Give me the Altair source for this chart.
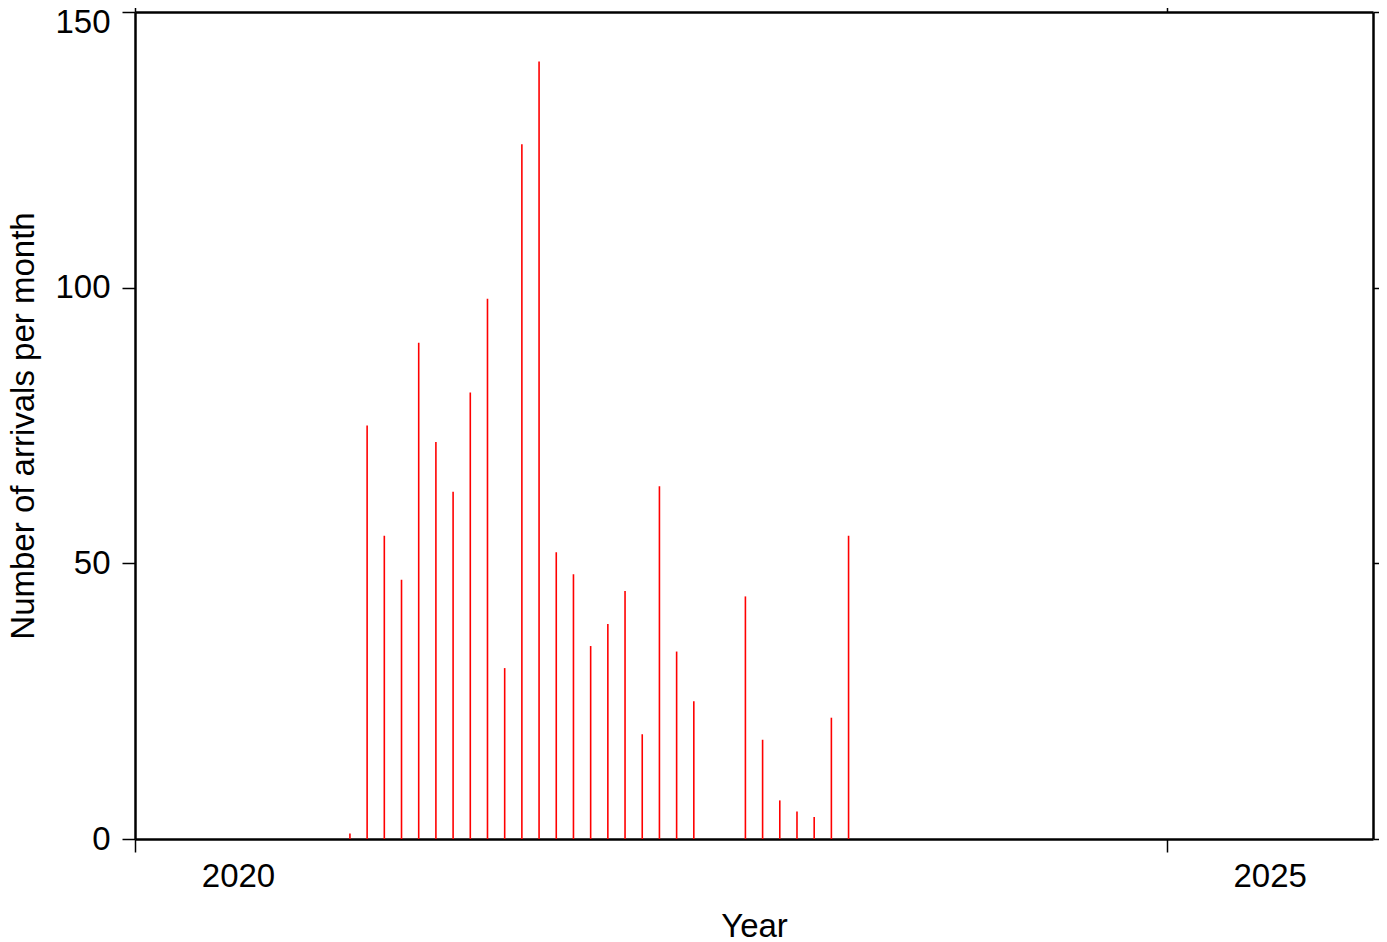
import altair as alt
import pandas as pd

months = ["2021-01", "2021-02", "2021-03", "2021-04", "2021-05", "2021-06",
          "2021-07", "2021-08", "2021-09", "2021-10", "2021-11", "2021-12",
          "2022-01", "2022-02", "2022-03", "2022-04", "2022-05", "2022-06",
          "2022-07", "2022-08", "2022-09", "2022-10", "2022-11", "2022-12",
          "2023-01", "2023-02", "2023-03", "2023-04", "2023-05", "2023-06"]
counts = [1, 75, 55, 47, 90, 72, 63, 81, 98, 31, 126, 141,
          52, 48, 35, 39, 45, 19, 64, 34, 25, 0, 0, 44,
          18, 7, 5, 4, 22, 55]
year_ticks = [2020, 2025]
count_ticks = [0, 50, 100, 150]

# decimal year at the middle of each month
t = [int(m[:4]) + (int(m[5:]) - 0.5) / 12 for m in months]
df = pd.DataFrame({"month": months, "t": t, "count": counts, "zero": [0] * len(counts)})

font = "Liberation Sans"
common = dict(domainColor="black", domainWidth=2.5, tickColor="black", tickWidth=1.5,
              tickSize=13, grid=False, labelFont=font, labelFontSize=33,
              labelColor="black", titleFont=font, titleFontSize=33,
              titleFontWeight="normal", titleColor="black")

xscale = alt.Scale(domain=[2020, 2026], nice=False, zero=False)
yscale = alt.Scale(domain=[0, 150], nice=False)

ax_bottom = alt.Axis(orient="bottom", values=year_ticks, format="d", labelOffset=103,
                     labelFlush=False, labelOverlap=False, labelBound=False,
                     labelPadding=8, title="Year", titlePadding=17, **common)
ax_left = alt.Axis(orient="left", values=count_ticks, format="d", labelPadding=12,
                   labelFlush=False, labelOverlap=False,
                   labelOffset=alt.condition("datum.value == 150", alt.value(10), alt.value(0)),
                   title="Number of arrivals per month", titlePadding=14, **common)
ax_top = alt.Axis(orient="top", values=year_ticks, labels=False, title=None, **common)
ax_right = alt.Axis(orient="right", values=count_ticks, labels=False, title=None, **common)

base = alt.Chart(df)
bars = base.mark_rule(color="#ff0000", strokeWidth=1.6).encode(
    x=alt.X("t:Q", scale=xscale, axis=ax_bottom),
    y=alt.Y("count:Q", scale=yscale, axis=ax_left),
    y2="zero:Q",
)
frame = base.mark_rule(opacity=0).encode(
    x=alt.X("t:Q", scale=xscale, axis=ax_top),
    y=alt.Y("count:Q", scale=yscale, axis=ax_right),
    y2="zero:Q",
)

chart = alt.layer(bars, frame).resolve_axis(x="independent", y="independent").properties(
    width=1238, height=827,
    autosize=alt.AutoSizeParams(type="none"),
    padding={"left": 127, "top": 4, "right": 6, "bottom": 103},
).configure_view(stroke=None)

chart.save("out.html", embed_options={"renderer": "svg", "actions": False})
